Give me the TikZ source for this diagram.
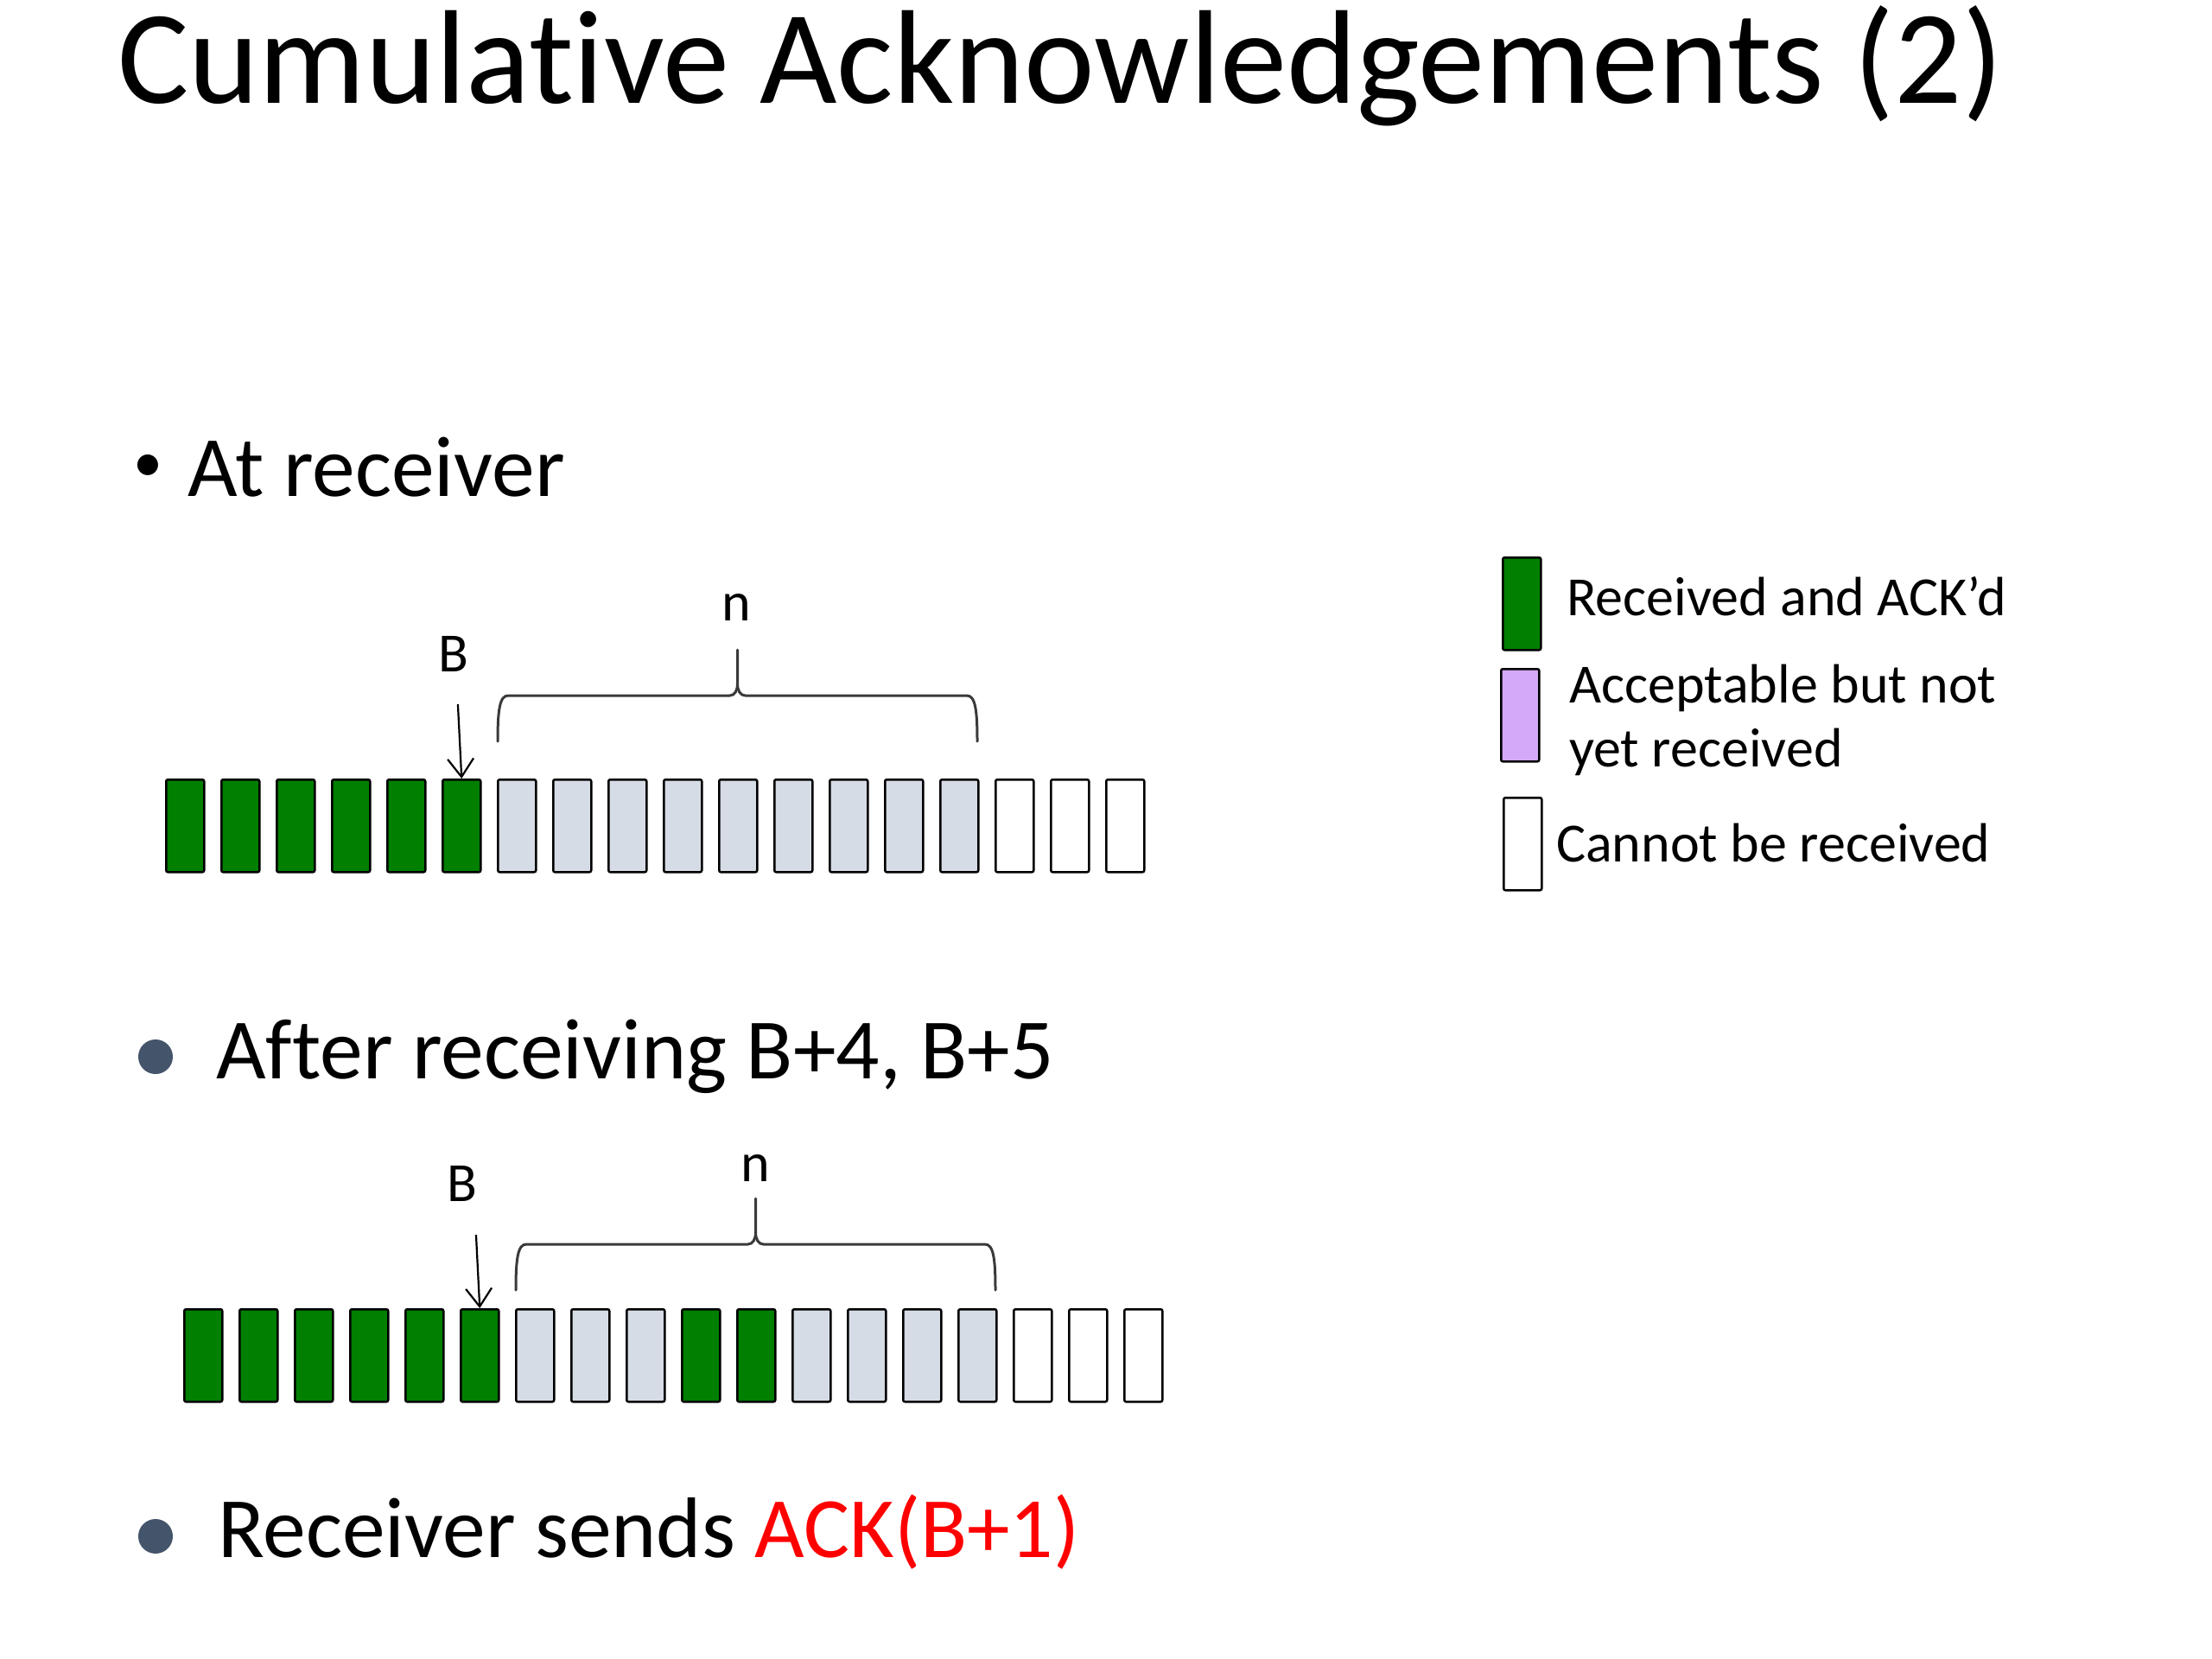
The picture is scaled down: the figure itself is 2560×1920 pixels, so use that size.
\documentclass[tikz,border=0pt]{standalone}
\usepackage{fontspec}
\setmainfont{Carlito}[Ligatures=NoCommon]
\usetikzlibrary{arrows.meta}
\definecolor{ackgreen}{HTML}{007F00}
\definecolor{wingray}{HTML}{D6DCE5}
\definecolor{lilac}{HTML}{D4A9F9}
\definecolor{bulletblue}{HTML}{44546A}
\definecolor{ackred}{HTML}{FF0000}
\definecolor{bracegray}{HTML}{3A3A3A}
\newcommand\pktbrace[5]{% L, R, ybottom, yhoriz, ytip
  \draw[bracestyle] (#1,#3) .. controls (#1,{#4+18}) and ({#1+2},#4) .. ({#1+12},#4)
    -- ({(#1+#2)/2-9},#4) .. controls ({(#1+#2)/2-3},#4) and ({(#1+#2)/2},{#4-6}) .. ({(#1+#2)/2},{#4-14})
    -- ({(#1+#2)/2},#5);
  \draw[bracestyle] ({(#1+#2)/2},{#4-14}) .. controls ({(#1+#2)/2},{#4-6}) and ({(#1+#2)/2+3},#4) .. ({(#1+#2)/2+9},#4)
    -- ({#2-12},#4) .. controls ({#2-2},#4) and (#2,{#4+18}) .. (#2,#3);
}
\begin{document}
\begin{tikzpicture}[x=1pt,y=-1pt,
  pkt/.style={draw=black, line width=2.5pt, rounded corners=2pt, minimum width=44pt,
    minimum height=107pt, inner sep=0pt, anchor=north west},
  bracestyle/.style={draw=bracegray, line width=3pt, line cap=round},
  ptr/.style={draw=black, line width=2.2pt, -{Straight Barb[length=21pt,width=30pt]}},
  title/.style={font=\fontsize{154.5}{180}\selectfont, inner sep=0pt, anchor=base west},
  body/.style={font=\fontsize{99.5}{118}\selectfont, inner sep=0pt, anchor=base west},
  lbl/.style={font=\fontsize{64}{76}\selectfont, inner sep=0pt, anchor=base},
  legtxt/.style={font=\fontsize{64}{76}\selectfont, inner sep=0pt, anchor=base west},
  dot/.style={circle, fill=bulletblue, minimum size=40pt, inner sep=0pt}]
\useasboundingbox[fill=white] (0,0) rectangle (2560,1920);

% title
\node[title] (ttl) at (136,119) {Cumulative Acknowledgements (2)};

% bullet 1
\node[font=\fontsize{68}{80}\selectfont, inner sep=0pt, anchor=base] (b1) at (171,557) {•};
\node[body] (t1) at (217,574) {At receiver};

% row 1
\foreach \c [count=\i] in {ackgreen,ackgreen,ackgreen,ackgreen,ackgreen,ackgreen,
  wingray,wingray,wingray,wingray,wingray,wingray,wingray,wingray,wingray,white,white,white}
  \node[pkt, fill=\c] (ra\i) at ({191+(\i-1)*64},901) {};
\node[lbl] (Ba) at (525,777) {B};
\node[lbl] (na) at (852,718) {n};
\draw[ptr, shorten <=38pt] ([xshift=3pt]Ba.south) -- (ra6.north);
\pktbrace{576}{1131}{858}{805}{752}

% legend
\node[pkt, fill=ackgreen] (lg1) at (1738,644) {};
\node[legtxt] (lt1) at (1813,712) {Received and ACK’d};
\node[pkt, fill=lilac] (lg2) at (1736,773) {};
\node[legtxt] (lt2) at (1816,813) {Acceptable but not};
\node[legtxt] (lt3) at (1816,887) {yet received};
\node[pkt, fill=white] (lg3) at (1739,922) {};
\node[legtxt] (lt4) at (1801,997) {Cannot be received};

% bullet 2
\node[dot] (b2) at (180,1223) {};
\node[body] (t2) at (250,1248) {After receiving B+4, B+5};

% row 2
\foreach \c [count=\i] in {ackgreen,ackgreen,ackgreen,ackgreen,ackgreen,ackgreen,
  wingray,wingray,wingray,ackgreen,ackgreen,wingray,wingray,wingray,wingray,white,white,white}
  \node[pkt, fill=\c] (rb\i) at ({212+(\i-1)*64},1514) {};
\node[lbl] (Bb) at (535,1390) {B};
\node[lbl] (nb) at (874,1367) {n};
\draw[ptr, shorten <=39pt] ([xshift=14pt]Bb.south) -- (rb6.north);
\pktbrace{597}{1152}{1493}{1440}{1387}

% bullet 3
\node[dot] (b3) at (180,1778) {};
\node[body] (t3) at (252,1802) {Receiver sends \textcolor{ackred}{ACK(B+1)}};
\end{tikzpicture}
\end{document}
